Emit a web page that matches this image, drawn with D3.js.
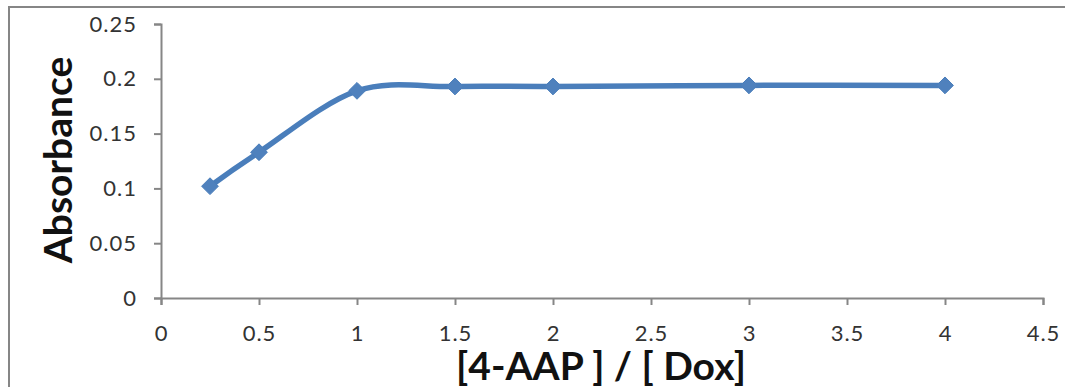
<!DOCTYPE html>
<html>
<head>
<meta charset="utf-8">
<script src="https://cdn.jsdelivr.net/npm/d3@7"></script>
<style>
	body { margin: 0; background: #fff; }
	svg { display: block; }
</style>
</head>
<body>
<div id="vis"></div>
<script>

var ratio = [0.25, 0.5, 1, 1.5, 2, 3, 4];
var absorbance = [0.102, 0.133, 0.189, 0.193, 0.193, 0.194, 0.194];
var xTicks = [0, 0.5, 1, 1.5, 2, 2.5, 3, 3.5, 4, 4.5];
var yTicks = [0, 0.05, 0.1, 0.15, 0.2, 0.25];

var width = 1065, height = 387;
var padLeft = 161, padRight = 1043, padTop = 24, padBottom = 298;
var font = "Lato, 'Open Sans', sans-serif";
var axisColor = "#868686";
var lineColor = "#4A7EBB";

var svg = d3.select("#vis").append("svg")
	.attr("width", width)
	.attr("height", height);

// chart border (right and bottom sides are cut off in the original)
svg.append("rect")
	.attr("x", 9).attr("y", 7)
	.attr("width", width + 20).attr("height", height + 20)
	.style("fill", "none")
	.style("stroke", axisColor)
	.style("stroke-width", 2);

var xScale = d3.scaleLinear().domain([0, 4.5]).range([padLeft, padRight]);
var yScale = d3.scaleLinear().domain([0, 0.25]).range([padBottom, padTop]);

var xAxis = svg.append("g")
	.attr("transform", "translate(0," + padBottom + ")")
	.call(d3.axisBottom(xScale).tickValues(xTicks).tickSize(7).tickPadding(20).tickFormat(d3.format("")));

var yAxis = svg.append("g")
	.attr("transform", "translate(" + padLeft + ",0)")
	.call(d3.axisLeft(yScale).tickValues(yTicks).tickSize(7).tickPadding(17).tickFormat(d3.format("")));

[xAxis, yAxis].forEach(function(g) {
	g.select(".domain").style("stroke", axisColor).style("stroke-width", 2);
	g.selectAll(".tick line").style("stroke", axisColor).style("stroke-width", 2);
	g.selectAll(".tick text")
		.style("font-family", font)
		.style("font-size", "22px")
		.style("letter-spacing", "1px")
		.style("fill", "#333");
});

// axis titles
svg.append("text")
	.attr("x", 601).attr("y", 380)
	.attr("text-anchor", "middle")
	.style("font-family", font)
	.style("font-weight", "bold")
	.style("font-size", "39px")
	.style("fill", "#111")
	.text("[4-AAP ] / [ Dox]");

svg.append("text")
	.attr("transform", "translate(72,160) rotate(-90)")
	.attr("text-anchor", "middle")
	.style("font-family", font)
	.style("font-weight", "bold")
	.style("font-size", "39px")
	.style("fill", "#111")
	.text("Absorbance");

var data = ratio.map(function(d, i) { return {x: d, y: absorbance[i]}; });

var line = d3.line()
	.x(function(d) { return xScale(d.x); })
	.y(function(d) { return yScale(d.y); })
	.curve(d3.curveCardinal.tension(0));

svg.append("path")
	.datum(data)
	.attr("d", line)
	.style("fill", "none")
	.style("stroke", lineColor)
	.style("stroke-width", 5.5);

svg.selectAll(".marker")
	.data(data)
	.enter()
	.append("path")
	.attr("class", "marker")
	.attr("transform", function(d) { return "translate(" + xScale(d.x) + "," + yScale(d.y) + ")"; })
	.attr("d", d3.symbol().type(d3.symbolDiamond2).size(180))
	.style("fill", "#4F81BD")
	.style("stroke", lineColor)
	.style("stroke-width", 1);

</script>
</body>
</html>
